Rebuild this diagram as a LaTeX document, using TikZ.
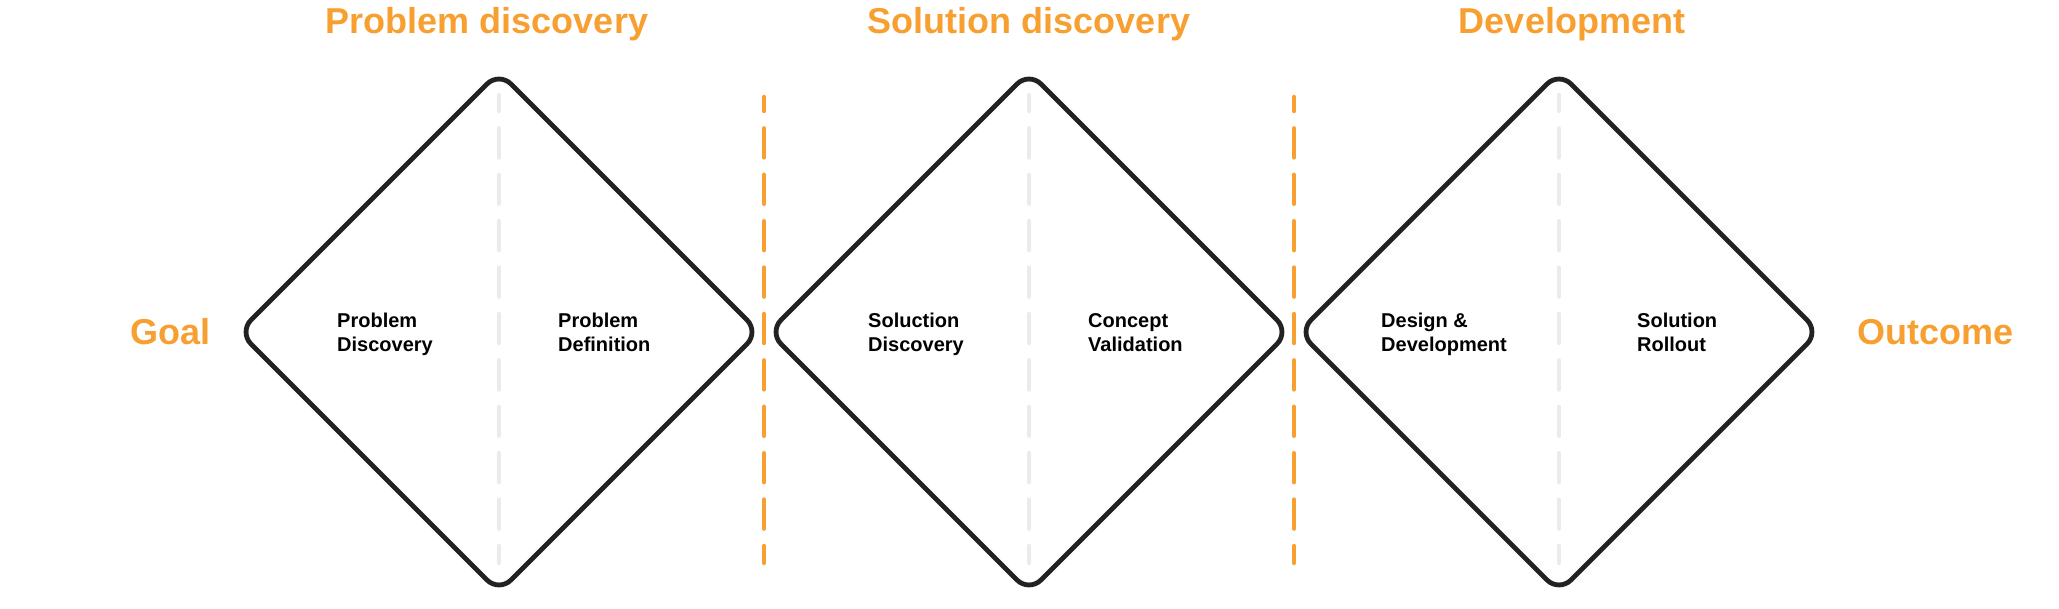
\documentclass[tikz,border=0pt]{standalone}
\usepackage{fontspec}
\setmainfont{Liberation Sans}
\usetikzlibrary{calc}
\definecolor{orng}{HTML}{F7A031}
\definecolor{ink}{HTML}{222222}
\definecolor{lgrey}{HTML}{EBEBEB}
\begin{document}
\begin{tikzpicture}[x=1pt,y=-1pt,
  diamondline/.style={draw=ink,line width=4.8pt,rounded corners=17pt},
  divider/.style={draw=lgrey,line width=4.5pt,line cap=round,dash pattern=on 29pt off 17.4pt,dash phase=13pt},
  sepline/.style={draw=orng,line width=4.5pt,line cap=round,dash pattern=on 29pt off 17.4pt,dash phase=15pt},
  title/.style={text=orng,font=\fontsize{36}{40}\selectfont\bfseries,inner sep=0pt,anchor=base},
  stage/.style={text=black,font=\fontsize{20}{24.5}\selectfont\bfseries,align=left,inner sep=0pt,anchor=base west}]
\useasboundingbox (0,0) rectangle (2059,609);
% diamond centres
\coordinate (d1) at (499,332);
\coordinate (d2) at (1029,332);
\coordinate (d3) at (1559,332);
\foreach \d in {d1,d2,d3}{
  \draw[diamondline] ($(\d)+(-130,-130)$) -- ($(\d)+(0,-260)$) -- ($(\d)+(260,0)$) -- ($(\d)+(0,260)$) -- ($(\d)+(-260,0)$) -- cycle;
  \coordinate (\d top) at ($(\d)+(0,-237)$);
  \coordinate (\d bot) at ($(\d)+(0,231)$);
  \draw[divider] (\d top) -- (\d bot);
}
% orange separators
\coordinate (s1top) at (764,97);
\coordinate (s1bot) at (764,563);
\coordinate (s2top) at (1294,97);
\coordinate (s2bot) at (1294,563);
\draw[sepline] (s1top) -- (s1bot);
\draw[sepline] (s2top) -- (s2bot);
% titles
\node[title] (t1) at (487,33.5) {Problem discovery};
\node[title] (t2) at (1029,33.5) {Solution discovery};
\node[title] (t3) at (1572,33.5) {Development};
\node[title,anchor=base west] (goal) at (130,345) {Goal};
\node[title,anchor=base east] (outcome) at (2014,345) {Outcome};
% stages (base = baseline of the second line)
\node[stage] (p1) at (337,352) {Problem\\Discovery};
\node[stage] (p2) at (558,352) {Problem\\Definition};
\node[stage] (p3) at (868,352) {Soluction\\Discovery};
\node[stage] (p4) at (1088,352) {Concept\\Validation};
\node[stage] (p5) at (1381,352) {Design \&\\Development};
\node[stage] (p6) at (1637,352) {Solution\\Rollout};
\end{tikzpicture}
\end{document}
